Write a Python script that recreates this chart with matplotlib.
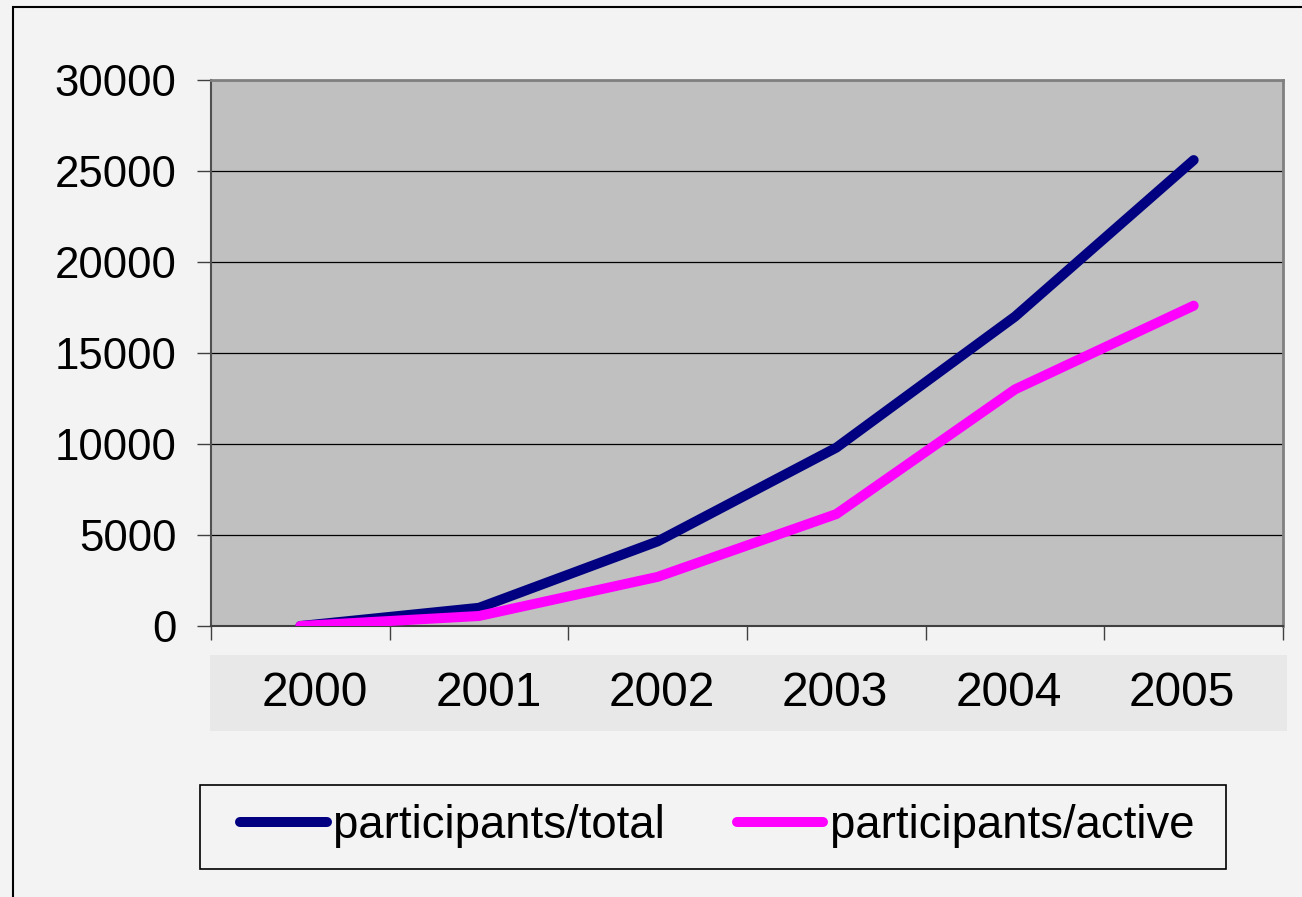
import matplotlib.pyplot as plt
from matplotlib.patches import Rectangle

years = ['2000', '2001', '2002', '2003', '2004', '2005']
total = [0, 1000, 4650, 9800, 17000, 25600]
active = [0, 550, 2700, 6150, 13000, 17600]
y_ticks = [0, 5000, 10000, 15000, 20000, 25000, 30000]

plt.rcParams['font.family'] = ['Liberation Sans', 'DejaVu Sans']
BG = '#f3f3f3'
LW = 7.2

fig = plt.figure(figsize=(13.02, 8.97), dpi=100, facecolor=BG)
W, H = 1302, 897


def fx(px):
    return px / W


def fy(py):
    return 1 - py / H


def box(x0, y0, x1, y1, **kw):
    # rectangle given in pixel coords of the picture (y downwards)
    fig.patches.append(Rectangle((fx(x0), fy(y1)), fx(x1) - fx(x0), fy(y0) - fy(y1),
                                 transform=fig.transFigure, **kw))


# outer frame of the chart area
box(13, 7, 1320, 920, fill=False, edgecolor='black', linewidth=1.5, zorder=0)

ax = fig.add_axes([fx(211), fy(626), fx(1283) - fx(211), fy(80) - fy(626)])
ax.set_facecolor('#c0c0c0')
x = list(range(len(years)))
ax.plot(x, total, color='#000080', linewidth=LW, solid_capstyle='round',
        solid_joinstyle='round', label='participants/total', zorder=3)
ax.plot(x, active, color='#ff00ff', linewidth=LW, solid_capstyle='round',
        solid_joinstyle='round', label='participants/active', zorder=4)

ax.set_xlim(-0.5, len(years) - 0.5)
ax.set_ylim(0, 30000)
ax.set_yticks(y_ticks)
ax.set_yticklabels([str(v) for v in y_ticks], fontsize=31.5)
ax.set_xticks([i - 0.5 for i in range(len(years) + 1)])
ax.set_xticklabels([])
ax.tick_params(axis='both', direction='out', length=10, width=1, color='#404040')
ax.tick_params(axis='y', pad=15)
ax.grid(axis='y', color='black', linewidth=0.9)
ax.set_axisbelow(True)
for side in ['top', 'right']:
    ax.spines[side].set_color('#808080')
    ax.spines[side].set_linewidth(2)
ax.spines['left'].set_color('#505050')
ax.spines['left'].set_linewidth(1.5)
ax.spines['bottom'].set_color('#404040')
ax.spines['bottom'].set_linewidth(1.5)

# category label band
band = fig.add_axes([fx(210), fy(731), fx(1287) - fx(210), fy(655) - fy(731)])
band.set_facecolor('#e8e8e8')
band.set_xlim(-0.5, len(years) - 0.5)
band.set_ylim(0, 1)
for s in band.spines.values():
    s.set_visible(False)
band.set_xticks([])
band.set_yticks([])
mid = (len(years) - 1) / 2
for i, yr in enumerate(years):
    band.text(mid + (i - mid) * 0.966, 0.5, yr, fontsize=34.5,
              ha='center', va='center')

# legend: frameless legend inside a hand-placed box
box(200, 785, 1226, 869, fill=True, facecolor=BG, edgecolor='black',
    linewidth=1.2, zorder=1)
handles, labels = ax.get_legend_handles_labels()
leg = fig.legend(handles, labels, loc='center left',
                 bbox_to_anchor=(fx(240), fy(826)), ncol=2, fontsize=32.8,
                 frameon=False, handlelength=1.9, handletextpad=0.15,
                 columnspacing=1.57, borderpad=0, borderaxespad=0)
leg.set_zorder(2)
for line in leg.get_lines():
    line.set_linewidth(LW)
    line.set_solid_capstyle('round')

fig.savefig('out.png', dpi=100, facecolor=BG)
